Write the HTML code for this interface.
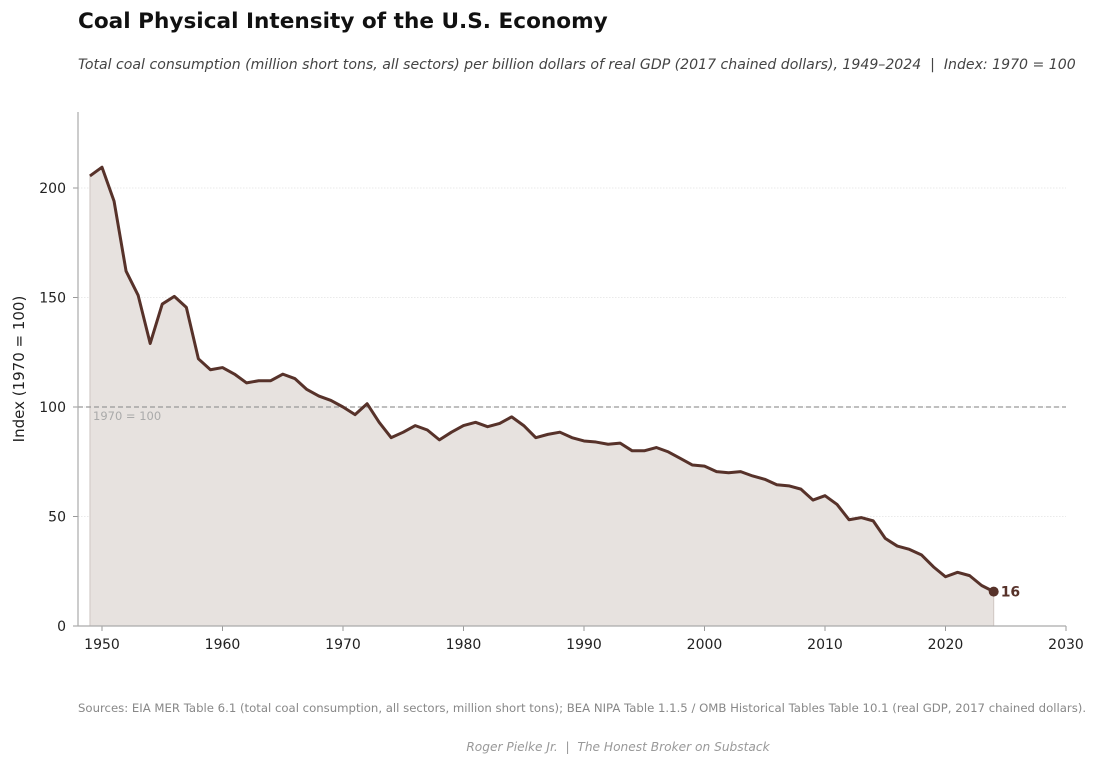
<!DOCTYPE html>
<html><head><meta charset="utf-8"><style>
body{margin:0;background:#fff;font-family:"DejaVu Sans","Liberation Sans",sans-serif;}
svg{display:block}
text{white-space:pre}
</style></head><body>
<svg width="1100" height="766" id="chart" xml:space="preserve">
<text x="78" y="28" font-size="21.6" font-weight="bold" fill="#111">Coal Physical Intensity of the U.S. Economy</text>
<text x="78" y="69" font-size="14.1" font-style="italic" fill="#444">Total coal consumption (million short tons, all sectors) per billion dollars of real GDP (2017 chained dollars), 1949–2024  |  Index: 1970 = 100</text>
<g id="plot"></g>
<text x="24" y="369" font-size="15" fill="#222" text-anchor="middle" transform="rotate(-90 24 369)">Index (1970 = 100)</text>
<text x="78" y="712" font-size="11.7" fill="#888">Sources: EIA MER Table 6.1 (total coal consumption, all sectors, million short tons); BEA NIPA Table 1.1.5 / OMB Historical Tables Table 10.1 (real GDP, 2017 chained dollars).</text>
<text x="618" y="751" font-size="12.2" font-style="italic" fill="#999" text-anchor="middle">Roger Pielke Jr.  |  The Honest Broker on Substack</text>
</svg>
<script>
const years=[];for(let y=1949;y<=2024;y++)years.push(y);
const values=[205.5,209.5,194,162,151,129,147,150.5,145.5,122,117,118,115,111,112,112,115,113,108,105,103,100,96.5,101.5,93,86,88.5,91.5,89.5,85,88.5,91.5,93,91,92.5,95.5,91.5,86,87.5,88.5,86,84.5,84,83,83.5,80,80,81.5,79.5,76.5,73.5,73,70.5,70,70.5,68.5,67,64.5,64,62.5,57.5,59.5,55.5,48.5,49.5,48,40,36.5,35,32.5,27,22.5,24.5,23,18.5,15.7];
const xTicks=[1950,1960,1970,1980,1990,2000,2010,2020,2030];
const yTicks=[0,50,100,150,200];
const X=v=>102+(v-1950)*(1066-102)/80;
const Y=v=>626-v*(626-188)/200;
const NS="http://www.w3.org/2000/svg";
const g=document.getElementById('plot');
function mk(t,a){const e=document.createElementNS(NS,t);for(const k in a)e.setAttribute(k,a[k]);g.appendChild(e);return e;}
yTicks.forEach(v=>{if(v>0){const l=mk('line',{x1:78,x2:1066,y1:Y(v),y2:Y(v),stroke:'#e4e4e4','stroke-width':0.8,'stroke-dasharray':'1.5,1.5'});

}
const t=mk('text',{x:66,y:Y(v)+5,'font-size':14,'text-anchor':'end',fill:'#222'});t.textContent=v;


mk('line',{x1:73,x2:78,y1:Y(v),y2:Y(v),stroke:'#999'});});
xTicks.forEach(v=>{mk('line',{x1:X(v),x2:X(v),y1:626,y2:631,stroke:'#999'});
const t=mk('text',{x:X(v),y:649,'font-size':14,'text-anchor':'middle',fill:'#222'});t.textContent=v;

});
let d='M'+X(years[0])+','+Y(0);years.forEach((y,i)=>d+='L'+X(y)+','+Y(values[i]));d+='L'+X(years[years.length-1])+','+Y(0)+'Z';
const area=mk('path',{d:d,fill:'#e7e2df',stroke:'#cfc6c2','stroke-width':1});


const ref=mk('line',{x1:78,x2:1066,y1:Y(100),y2:Y(100),stroke:'#999','stroke-width':1.2,'stroke-dasharray':'5,3'});


const rl=mk('text',{x:93,y:Y(100)+13,'font-size':11.5,fill:'#aaa'});rl.textContent='1970 = 100';


const line=mk('polyline',{points:years.map((y,i)=>X(y)+','+Y(values[i])).join(' '),fill:'none',stroke:'#57322a','stroke-width':3,'stroke-linejoin':'round'});


const li=years.length-1;
const dot=mk('circle',{cx:X(years[li]),cy:Y(values[li]),r:5,fill:'#57322a'});


const lv=mk('text',{x:X(years[li])+7,y:Y(values[li])+5,'font-size':14,'font-weight':'bold',fill:'#57322a'});lv.textContent=Math.round(values[li]);


const ax=mk('line',{x1:78,x2:78,y1:112,y2:626,stroke:'#aaa','stroke-width':1.2});


const bx=mk('line',{x1:78,x2:1066,y1:626,y2:626,stroke:'#aaa','stroke-width':1.2});


</script>
</body></html>
